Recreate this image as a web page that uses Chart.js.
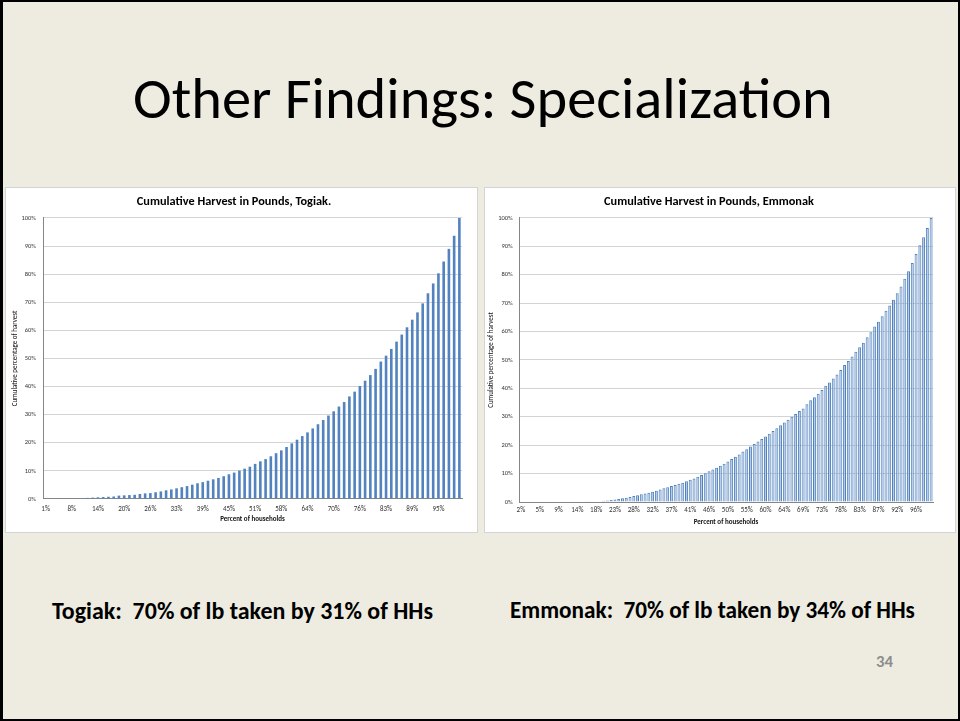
<!DOCTYPE html>
<html><head><meta charset="utf-8">
<script src="https://cdn.jsdelivr.net/npm/chart.js@4.4.0/dist/chart.umd.min.js"></script>
<style>
html,body{margin:0;padding:0;}
body{width:960px;height:721px;overflow:hidden;background:#EEECE1;font-family:Carlito,Lato,'Open Sans',sans-serif;}
#slide{position:absolute;left:0;top:0;width:960px;height:721px;background:#EEECE1;box-sizing:border-box;border-left:3px solid #000;border-top:2px solid #000;border-right:2px solid #000;border-bottom:2px solid #000;}
.t{position:absolute;white-space:pre;line-height:1;color:#000;}
.panel{position:absolute;background:#fff;box-sizing:border-box;border:1px solid #d4d4d4;}
.panel canvas{position:absolute;left:0;top:0;}
</style>
</head><body>
<div id="slide"></div>
<div class="t" id="title" style="top:69px;">Other Findings: Specialization</div>
<div class="panel" style="left:5px;top:187px;width:473px;height:346px;"><canvas id="c1" width="473" height="346"></canvas></div>
<div class="panel" style="left:484px;top:187px;width:472px;height:346px;"><canvas id="c2" width="472" height="346"></canvas></div>
<div class="t" id="n1" style="top:599px;font-weight:bold;">Togiak:  70% of lb taken by 31% of HHs</div>
<div class="t" id="n2" style="top:599px;font-weight:bold;">Emmonak:  70% of lb taken by 34% of HHs</div>
<div class="t" id="pg" style="top:654px;font-weight:bold;color:#8C8C8C;">34</div>
<script>
const FONT = "Carlito, Lato, 'Open Sans', sans-serif";

const togiakCategories = ['1%','3%','4%','5%','6%','8%','9%','10%','11%','13%','14%','15%','16%','18%','19%','20%',
'21%','23%','24%','25%','26%','28%','29%','30%','31%','33%','34%','35%','36%','38%','39%','40%',
'41%','43%','44%','45%','46%','48%','49%','50%','51%','53%','54%','55%','56%','58%','59%','60%',
'61%','63%','64%','65%','66%','68%','69%','70%','71%','73%','74%','75%','76%','78%','79%','80%',
'81%','83%','84%','85%','86%','88%','89%','90%','91%','93%','94%','95%','96%','98%','99%','100%'];
const togiakTickLabels = ['1%','8%','14%','20%','26%','33%','39%','45%','51%','58%','64%','70%','76%','83%','89%','95%'];
const togiakValues = [0,0,0,0.05,0.1,0.15,0.25,0.3,0.4,0.5,
0.6,0.7,0.8,0.9,1.2,1.3,1.4,1.5,1.8,2.0,
2.1,2.4,2.7,3.1,3.4,3.8,4.2,4.6,5.1,5.6,
6.0,6.5,7.0,7.5,8.1,8.8,9.4,10.1,10.8,11.5,
12.5,13.4,14.2,15.2,16.3,17.3,18.5,19.8,21.1,22.4,
23.7,25.1,26.6,28.1,29.7,31.2,32.9,34.5,36.5,38.2,
40.2,42.1,44.1,46.3,48.9,51.0,53.4,56.0,58.5,61.1,
63.8,66.4,69.6,73.2,76.7,80.3,84.5,89.0,93.7,100];

const emmonakCategories = ['0%','1%','2%','3%','4%','5%','6%','6%','7%','8%','9%','10%','11%','12%','13%','14%','15%','16%','17%','17%',
'18%','19%','20%','21%','22%','23%','24%','25%','26%','27%','28%','28%','29%','30%','31%','32%','33%','34%','35%','36%',
'37%','38%','39%','39%','40%','41%','42%','43%','44%','45%','46%','47%','48%','49%','50%','50%','51%','52%','53%','54%',
'55%','56%','57%','58%','59%','60%','61%','61%','62%','63%','64%','65%','66%','67%','68%','69%','70%','71%','72%','72%',
'73%','74%','75%','76%','77%','78%','79%','80%','81%','82%','83%','83%','84%','85%','86%','87%','88%','89%','90%','91%',
'92%','93%','94%','94%','95%','96%','97%','98%','99%','100%'];
const emmonakTickLabels = ['2%','5%','9%','14%','18%','23%','28%','32%','37%','41%','46%','50%','55%','60%','64%','69%','73%','78%','83%','87%','92%','96%'];
const emmonakValues = [0,0,0,0,0,0,0,0,0,0,
0,0,0,0,0,0,0,0.05,0.1,0.15,
0.2,0.3,0.4,0.5,0.7,0.9,1.1,1.3,1.5,1.8,
2.1,2.4,2.7,3.0,3.3,3.6,4.0,4.4,4.8,5.2,
5.6,6.0,6.4,6.8,7.3,7.8,8.3,8.9,9.5,10.1,
10.8,11.4,12.1,12.8,13.5,14.3,15.1,15.9,16.7,17.8,
18.6,19.5,20.4,21.3,22.2,23.1,24.0,25.0,26.0,27.0,
28.0,29.0,30.0,31.0,32.0,32.9,34.4,35.8,36.9,38.1,
39.4,40.9,42.1,43.5,44.9,46.5,48.2,49.6,51.2,52.9,
54.5,56.1,58.0,59.8,61.8,63.5,65.4,67.3,69.2,71.2,
73.5,75.9,78.6,81.2,84.1,87.3,90.4,93.2,96.5,100];

function build(id, cats, tickLabels, vals, cfg) {
  new Chart(document.getElementById(id), {
    type: 'bar',
    data: {labels: cats, datasets: [{data: vals, backgroundColor: cfg.fill, borderColor: cfg.border,
      borderWidth: cfg.bw, borderSkipped: 'bottom', barPercentage: cfg.bp, categoryPercentage: 1}]},
    options: {
      responsive: false, animation: false, devicePixelRatio: 1,
      layout: {padding: {left: 0, right: cfg.padRight, top: 0, bottom: 0}},
      plugins: {
        legend: {display: false}, tooltip: {enabled: false},
        title: {display: true, text: cfg.title, color: '#000',
          font: {family: FONT, size: 12.3, weight: 'bold', lineHeight: 1.2},
          padding: {top: 6.6, bottom: 8.6}}
      },
      scales: {
        x: {
          grid: {display: false, drawTicks: true, tickLength: cfg.tl},
          border: {display: true, color: '#868686'},
          ticks: {autoSkip: false, maxRotation: 0, minRotation: 0, padding: cfg.tp,
            font: {family: FONT, size: 7}, color: '#333',
            callback: (v, i) => (i % 5 === 0 ? tickLabels[i / 5] : '')},
          title: {display: true, text: 'Percent of households', color: '#111',
            font: {family: FONT, size: 7, weight: 'bold', lineHeight: 1.2},
            padding: {top: 0, bottom: cfg.xTitleBottom}},
          afterFit: s => { s.height = cfg.xH; }
        },
        y: {
          min: 0, max: 100,
          ticks: {stepSize: 10, callback: v => v + '%', padding: cfg.yp,
            font: {family: FONT, size: 6.5}, color: '#333'},
          grid: {color: '#d4d4d4', drawTicks: false},
          border: {display: true, color: '#868686'},
          title: {display: true, text: 'Cumulative percentage of harvest', color: '#111',
            font: {family: FONT, size: 7, lineHeight: 1.2},
            padding: {top: cfg.yTitlePad, bottom: 0}},
          afterFit: s => { s.width = cfg.yW; }
        }
      }
    }
  });
}

build('c1', togiakCategories, togiakTickLabels, togiakValues, {
  title: 'Cumulative Harvest in Pounds, Togiak.',
  fill: '#5383BE', border: '#3E6CA8', bw: 0, bp: 0.5,
  padRight: 17, yW: 37, xH: 35, tl: 3, tp: 3, xTitleBottom: 10.8, yTitlePad: 4.8, yp: 7
});
build('c2', emmonakCategories, emmonakTickLabels, emmonakValues, {
  title: 'Cumulative Harvest in Pounds, Emmonak',
  fill: '#B3C8E4', border: '#4F81BD', bw: 1, bp: 0.78,
  padRight: 24, yW: 34, xH: 32, tl: 2, tp: 2, xTitleBottom: 7.8, yTitlePad: 1.8, yp: 6.3
});

function fit(id, target, base, left) {
  const el = document.getElementById(id);
  el.style.fontSize = base + 'px';
  const w = el.getBoundingClientRect().width;
  const size = base * target / w;
  el.style.fontSize = size.toFixed(2) + 'px';
  el.style.left = left + 'px';
}
fit('title', 700, 58, 133);
fit('n1', 381, 18, 52);
fit('n2', 405, 18, 510);
fit('pg', 17, 18, 876);
</script>
</body></html>
